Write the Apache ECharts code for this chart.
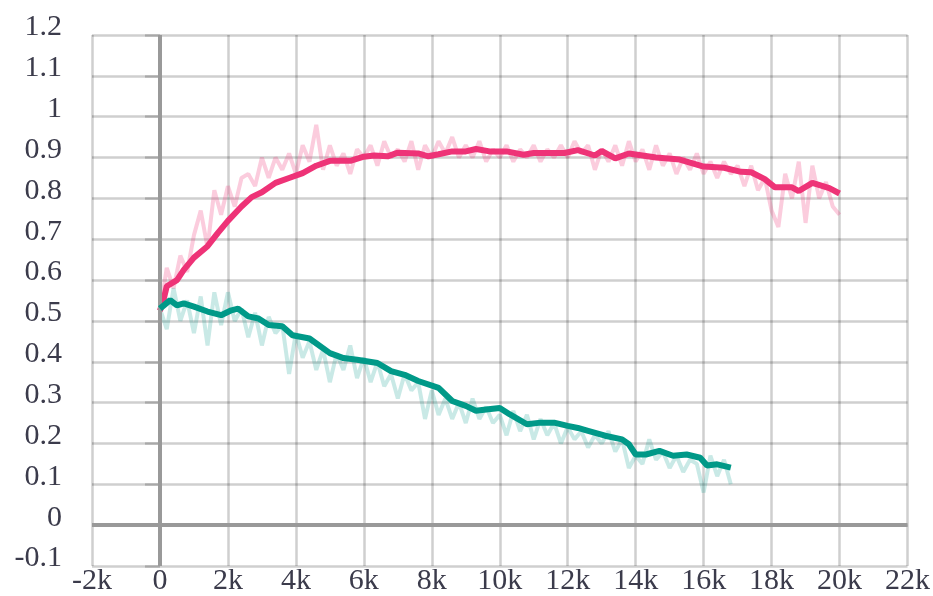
<!DOCTYPE html>
<html>
<head>
<meta charset="utf-8">
<script src="https://cdn.jsdelivr.net/npm/echarts@6/dist/echarts.min.js"></script>
<style>
html,body{margin:0;padding:0;background:#fff;overflow:hidden;}
#chart{width:933px;height:596px;}
</style>
</head>
<body>
<div id="chart"></div>
<script>
// ---- data ----
const RAW_STEP = 200;
const pinkRaw = [
  0.52,0.63,0.58,0.66,0.62,0.71,0.77,0.68,0.82,0.76,
  0.83,0.78,0.85,0.86,0.83,0.90,0.85,0.90,0.87,0.91,
  0.86,0.93,0.89,0.98,0.87,0.93,0.88,0.91,0.86,0.92,
  0.90,0.93,0.88,0.94,0.90,0.92,0.89,0.94,0.87,0.93,
  0.90,0.94,0.91,0.95,0.90,0.93,0.90,0.94,0.89,0.92,
  0.90,0.93,0.89,0.92,0.90,0.93,0.89,0.92,0.90,0.93,
  0.90,0.94,0.91,0.93,0.87,0.92,0.89,0.93,0.88,0.94,
  0.89,0.92,0.87,0.93,0.88,0.91,0.86,0.90,0.87,0.91,
  0.86,0.89,0.85,0.89,0.86,0.88,0.83,0.88,0.82,0.85,
  0.77,0.73,0.86,0.80,0.89,0.74,0.88,0.80,0.84,0.78,
  0.76
];
const greenRaw = [
  0.53,0.48,0.58,0.50,0.55,0.47,0.56,0.44,0.57,0.49,
  0.57,0.50,0.53,0.46,0.52,0.44,0.51,0.47,0.49,0.37,
  0.47,0.41,0.45,0.38,0.43,0.35,0.42,0.38,0.44,0.36,
  0.41,0.35,0.40,0.34,0.37,0.31,0.37,0.33,0.35,0.26,
  0.33,0.27,0.31,0.26,0.30,0.25,0.31,0.26,0.29,0.25,
  0.27,0.22,0.28,0.23,0.27,0.21,0.26,0.22,0.25,0.20,
  0.24,0.21,0.23,0.19,0.22,0.20,0.23,0.18,0.21,0.14,
  0.17,0.15,0.21,0.16,0.18,0.14,0.17,0.13,0.16,0.15,
  0.08,0.17,0.12,0.16,0.10
];
const pinkSmoothSteps = [0,100,200,500,700,1000,1400,1700,2000,2400,2700,3000,3400,3800,4200,4600,5000,5600,6000,6300,6700,7000,7600,7900,8200,8600,9000,9300,9700,10200,10700,11000,11900,12300,12800,13000,13400,13800,14600,15300,16000,16600,17100,17400,17800,18100,18600,18800,19200,19700,20000];
const pinkSmooth = [0.525,0.55,0.585,0.60,0.625,0.655,0.683,0.715,0.745,0.78,0.803,0.815,0.838,0.85,0.862,0.88,0.892,0.892,0.902,0.905,0.903,0.912,0.91,0.903,0.908,0.915,0.915,0.921,0.915,0.915,0.907,0.911,0.911,0.918,0.905,0.916,0.898,0.91,0.90,0.895,0.878,0.875,0.865,0.864,0.847,0.827,0.827,0.818,0.838,0.825,0.812];
const greenSmoothSteps = [0,300,500,700,1000,1400,1800,2100,2300,2600,2900,3200,3600,3900,4400,5000,5400,5800,6400,6800,7200,7600,8200,8600,9000,9300,9600,10000,10300,10800,11200,11600,12000,12300,12600,13100,13600,13800,14000,14300,14700,15100,15500,15900,16100,16400,16800];
const greenSmooth = [0.53,0.551,0.538,0.543,0.535,0.523,0.514,0.526,0.53,0.511,0.506,0.49,0.487,0.465,0.457,0.421,0.409,0.405,0.397,0.377,0.368,0.353,0.336,0.304,0.292,0.28,0.283,0.287,0.271,0.247,0.251,0.251,0.243,0.238,0.231,0.219,0.21,0.198,0.173,0.173,0.182,0.17,0.173,0.165,0.146,0.149,0.141];

// ---- styles ----
const PINK = '#EE3377';
const GREEN = '#009988';
const TEXT = '#3b3b4b';
const GRID = 'rgba(0,0,0,0.19)';
const FONT = 'Liberation Serif';

const rawPairs = arr => arr.map((v, i) => [i * RAW_STEP, v]);
const zip = (xs, ys) => xs.map((x, i) => [x, ys[i]]);

const chart = echarts.init(document.getElementById('chart'), null, {renderer: 'canvas'});
chart.setOption({
  animation: false,
  backgroundColor: '#fff',
  grid: {left: 92, right: 25, top: 35, bottom: 27, containLabel: false},
  xAxis: {
    type: 'value', min: -2000, max: 22000, interval: 2000,
    axisLine: {show: false}, axisTick: {show: false},
    splitLine: {show: true, lineStyle: {color: GRID, width: 2.5}},
    axisLabel: {
      color: TEXT, fontFamily: FONT, fontSize: 30, margin: 0,
      formatter: v => v === 0 ? '0' : (v / 1000) + 'k'
    }
  },
  yAxis: {
    type: 'value', min: -0.1, max: 1.2, interval: 0.1,
    axisLine: {show: false},
    axisTick: {show: true, length: 15, lineStyle: {color: GRID, width: 2.5}},
    splitLine: {show: true, lineStyle: {color: GRID, width: 2.5}},
    axisLabel: {
      color: TEXT, fontFamily: FONT, fontSize: 30, margin: 30,
      verticalAlign: 'bottom', lineHeight: 15,
      formatter: v => String(Math.round(v * 10) / 10)
    }
  },
  series: [
    {
      type: 'line', data: rawPairs(pinkRaw), showSymbol: false, symbol: 'none',
      lineStyle: {color: PINK, width: 4, opacity: 0.25}, z: 2,
      markLine: {
        silent: true, symbol: 'none', label: {show: false},
        lineStyle: {color: '#999999', width: 4, type: 'solid', opacity: 1},
        data: [{xAxis: 0}, {yAxis: 0}]
      }
    },
    {
      type: 'line', data: rawPairs(greenRaw), showSymbol: false, symbol: 'none',
      lineStyle: {color: GREEN, width: 4, opacity: 0.21}, z: 3
    },
    {
      type: 'line', data: zip(pinkSmoothSteps, pinkSmooth), showSymbol: false, symbol: 'none',
      lineStyle: {color: PINK, width: 6}, z: 4
    },
    {
      type: 'line', data: zip(greenSmoothSteps, greenSmooth), showSymbol: false, symbol: 'none',
      lineStyle: {color: GREEN, width: 6}, z: 5
    }
  ]
});
</script>
</body>
</html>
